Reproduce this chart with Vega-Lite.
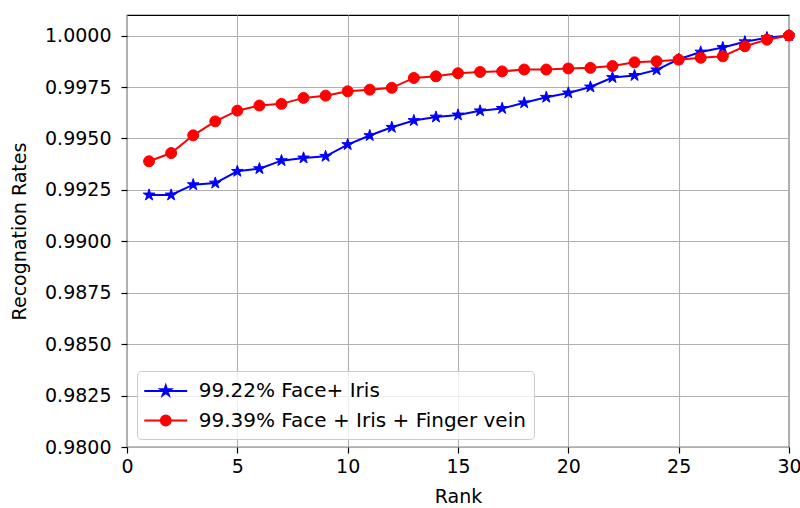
{
  "$schema": "https://vega.github.io/schema/vega-lite/v6.json",
  "autosize": "none",
  "width": 662,
  "height": 432,
  "padding": {"left": 127, "top": 15, "right": 11, "bottom": 61},
  "background": "white",
  "config": {
    "font": "DejaVu Sans",
    "view": {"stroke": "black", "strokeWidth": 1.2},
    "axis": {
      "labelFont": "DejaVu Sans",
      "titleFont": "DejaVu Sans",
      "labelFontSize": 19,
      "titleFontSize": 19,
      "titleFontWeight": "normal",
      "labelColor": "#000000",
      "titleColor": "#000000",
      "domain": false,
      "grid": true,
      "gridColor": "#b0b0b0",
      "gridWidth": 1.1,
      "tickColor": "#000000",
      "tickWidth": 1.2,
      "tickSize": 6
    }
  },
  "data": {
    "values": [
      {"rank": 1, "series": "99.22% Face+ Iris", "rate": 0.99225},
      {"rank": 2, "series": "99.22% Face+ Iris", "rate": 0.99225},
      {"rank": 3, "series": "99.22% Face+ Iris", "rate": 0.99275},
      {"rank": 4, "series": "99.22% Face+ Iris", "rate": 0.99283},
      {"rank": 5, "series": "99.22% Face+ Iris", "rate": 0.9934},
      {"rank": 6, "series": "99.22% Face+ Iris", "rate": 0.99353},
      {"rank": 7, "series": "99.22% Face+ Iris", "rate": 0.99392},
      {"rank": 8, "series": "99.22% Face+ Iris", "rate": 0.99405},
      {"rank": 9, "series": "99.22% Face+ Iris", "rate": 0.99413},
      {"rank": 10, "series": "99.22% Face+ Iris", "rate": 0.9947},
      {"rank": 11, "series": "99.22% Face+ Iris", "rate": 0.99514},
      {"rank": 12, "series": "99.22% Face+ Iris", "rate": 0.99554},
      {"rank": 13, "series": "99.22% Face+ Iris", "rate": 0.99587},
      {"rank": 14, "series": "99.22% Face+ Iris", "rate": 0.99604},
      {"rank": 15, "series": "99.22% Face+ Iris", "rate": 0.99614},
      {"rank": 16, "series": "99.22% Face+ Iris", "rate": 0.99634},
      {"rank": 17, "series": "99.22% Face+ Iris", "rate": 0.99646},
      {"rank": 18, "series": "99.22% Face+ Iris", "rate": 0.99673},
      {"rank": 19, "series": "99.22% Face+ Iris", "rate": 0.997},
      {"rank": 20, "series": "99.22% Face+ Iris", "rate": 0.99721},
      {"rank": 21, "series": "99.22% Face+ Iris", "rate": 0.9975},
      {"rank": 22, "series": "99.22% Face+ Iris", "rate": 0.99796},
      {"rank": 23, "series": "99.22% Face+ Iris", "rate": 0.99806},
      {"rank": 24, "series": "99.22% Face+ Iris", "rate": 0.99833},
      {"rank": 25, "series": "99.22% Face+ Iris", "rate": 0.99885},
      {"rank": 26, "series": "99.22% Face+ Iris", "rate": 0.9992},
      {"rank": 27, "series": "99.22% Face+ Iris", "rate": 0.99942},
      {"rank": 28, "series": "99.22% Face+ Iris", "rate": 0.9997},
      {"rank": 29, "series": "99.22% Face+ Iris", "rate": 0.9999},
      {"rank": 30, "series": "99.22% Face+ Iris", "rate": 1.0},
      {"rank": 1, "series": "99.39% Face + Iris + Finger vein", "rate": 0.99389},
      {"rank": 2, "series": "99.39% Face + Iris + Finger vein", "rate": 0.99429},
      {"rank": 3, "series": "99.39% Face + Iris + Finger vein", "rate": 0.99515},
      {"rank": 4, "series": "99.39% Face + Iris + Finger vein", "rate": 0.99583},
      {"rank": 5, "series": "99.39% Face + Iris + Finger vein", "rate": 0.99635},
      {"rank": 6, "series": "99.39% Face + Iris + Finger vein", "rate": 0.9966},
      {"rank": 7, "series": "99.39% Face + Iris + Finger vein", "rate": 0.99668},
      {"rank": 8, "series": "99.39% Face + Iris + Finger vein", "rate": 0.99697},
      {"rank": 9, "series": "99.39% Face + Iris + Finger vein", "rate": 0.99708},
      {"rank": 10, "series": "99.39% Face + Iris + Finger vein", "rate": 0.99729},
      {"rank": 11, "series": "99.39% Face + Iris + Finger vein", "rate": 0.99737},
      {"rank": 12, "series": "99.39% Face + Iris + Finger vein", "rate": 0.99746},
      {"rank": 13, "series": "99.39% Face + Iris + Finger vein", "rate": 0.99794},
      {"rank": 14, "series": "99.39% Face + Iris + Finger vein", "rate": 0.99802},
      {"rank": 15, "series": "99.39% Face + Iris + Finger vein", "rate": 0.99817},
      {"rank": 16, "series": "99.39% Face + Iris + Finger vein", "rate": 0.99823},
      {"rank": 17, "series": "99.39% Face + Iris + Finger vein", "rate": 0.99826},
      {"rank": 18, "series": "99.39% Face + Iris + Finger vein", "rate": 0.99835},
      {"rank": 19, "series": "99.39% Face + Iris + Finger vein", "rate": 0.99835},
      {"rank": 20, "series": "99.39% Face + Iris + Finger vein", "rate": 0.9984},
      {"rank": 21, "series": "99.39% Face + Iris + Finger vein", "rate": 0.99843},
      {"rank": 22, "series": "99.39% Face + Iris + Finger vein", "rate": 0.99852},
      {"rank": 23, "series": "99.39% Face + Iris + Finger vein", "rate": 0.9987},
      {"rank": 24, "series": "99.39% Face + Iris + Finger vein", "rate": 0.99875},
      {"rank": 25, "series": "99.39% Face + Iris + Finger vein", "rate": 0.99883},
      {"rank": 26, "series": "99.39% Face + Iris + Finger vein", "rate": 0.99892},
      {"rank": 27, "series": "99.39% Face + Iris + Finger vein", "rate": 0.99899},
      {"rank": 28, "series": "99.39% Face + Iris + Finger vein", "rate": 0.99948},
      {"rank": 29, "series": "99.39% Face + Iris + Finger vein", "rate": 0.9998},
      {"rank": 30, "series": "99.39% Face + Iris + Finger vein", "rate": 1.0}
    ]
  },
  "encoding": {
    "x": {
      "field": "rank",
      "type": "quantitative",
      "scale": {"domain": [0, 30], "nice": false, "zero": false},
      "axis": {"title": "Rank", "values": [0, 5, 10, 15, 20, 25, 30], "labelPadding": 4, "titlePadding": 11, "labelFlush": false}
    },
    "y": {
      "field": "rate",
      "type": "quantitative",
      "scale": {"domain": [0.98, 1.001], "nice": false, "zero": false},
      "axis": {"title": "Recognation Rates", "values": [0.98, 0.9825, 0.985, 0.9875, 0.99, 0.9925, 0.995, 0.9975, 1.0], "format": ".4f", "labelPadding": 10, "titlePadding": 15, "labelFlush": false}
    },
    "color": {
      "field": "series",
      "type": "nominal",
      "scale": {"domain": ["99.22% Face+ Iris", "99.39% Face + Iris + Finger vein"], "range": ["#0000ff", "#ff0000"]},
      "legend": {
        "title": null,
        "orient": "none",
        "legendX": 10,
        "legendY": 356,
        "labelFont": "DejaVu Sans",
        "labelFontSize": 20,
        "labelColor": "#000000",
        "labelLimit": 0,
        "symbolSize": 462,
        "symbolStrokeWidth": 2,
        "symbolOffset": 8.75,
        "labelOffset": 21,
        "rowPadding": 7.5,
        "padding": 8,
        "fillColor": "rgba(255,255,255,0.8)",
        "strokeColor": "#cccccc",
        "cornerRadius": 4,
        "encode": {
          "symbols": {
            "update": {
              "shape": {"signal": "datum.value === '99.22% Face+ Iris' ? 'M-2,0L2,0M0,-0.5L0.112,-0.155L0.476,-0.155L0.182,0.059L0.294,0.405L0,0.191L-0.294,0.405L-0.182,0.059L-0.476,-0.155L-0.112,-0.155Z' : 'M-2,0L2,0M0.46,0A0.46,0.46,0,1,1,-0.46,0A0.46,0.46,0,1,1,0.46,0Z'"},
              "fill": {"signal": "scale('color', datum.value)"},
              "stroke": {"signal": "scale('color', datum.value)"},
              "strokeWidth": {"value": 2},
              "opacity": {"value": 1}
            }
          }
        }
      }
    }
  },
  "layer": [
    {
      "transform": [{"filter": "datum.series === '99.22% Face+ Iris'"}],
      "mark": {"type": "line", "strokeWidth": 2, "clip": false}
    },
    {
      "transform": [{"filter": "datum.series === '99.22% Face+ Iris'"}],
      "mark": {"type": "point", "filled": true, "opacity": 1, "size": 150, "strokeWidth": 1, "clip": false,
               "shape": "M0,-1L0.2245,-0.309L0.951,-0.309L0.363,0.118L0.588,0.809L0,0.382L-0.588,0.809L-0.363,0.118L-0.951,-0.309L-0.2245,-0.309Z"},
      "encoding": {"stroke": {"field": "series", "type": "nominal", "scale": {"domain": ["99.22% Face+ Iris", "99.39% Face + Iris + Finger vein"], "range": ["#0000ff", "#ff0000"]}, "legend": null}}
    },
    {
      "transform": [{"filter": "datum.series !== '99.22% Face+ Iris'"}],
      "mark": {"type": "line", "strokeWidth": 2, "clip": false}
    },
    {
      "transform": [{"filter": "datum.series !== '99.22% Face+ Iris'"}],
      "mark": {"type": "point", "shape": "circle", "filled": true, "opacity": 1, "size": 120, "strokeWidth": 1, "clip": false},
      "encoding": {"stroke": {"field": "series", "type": "nominal", "scale": {"domain": ["99.22% Face+ Iris", "99.39% Face + Iris + Finger vein"], "range": ["#0000ff", "#ff0000"]}, "legend": null}}
    }
  ]
}
